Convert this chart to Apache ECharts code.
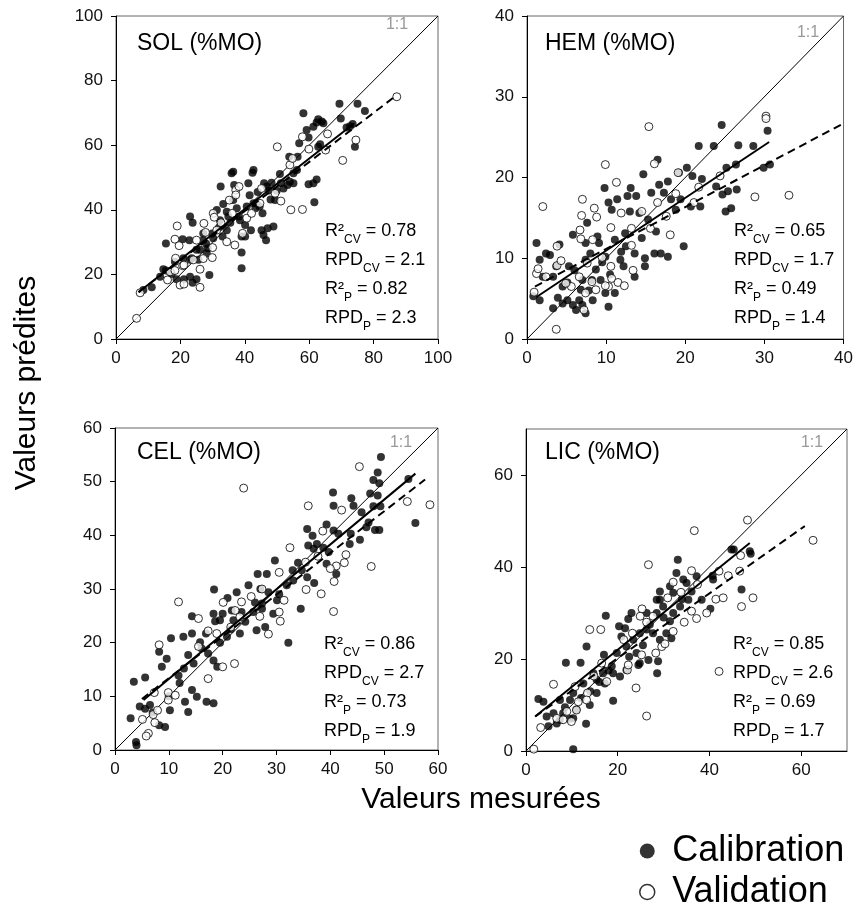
<!DOCTYPE html>
<html>
<head>
<meta charset="utf-8">
<script src="https://cdn.jsdelivr.net/npm/echarts@6/dist/echarts.min.js"></script>
<style>
html,body{margin:0;padding:0;background:#fff;}
#chart{width:856px;height:909px;}
</style>
</head>
<body>
<div id="chart"></div>
<script>

// ---- data ----
var solCal=[[8.5,15.2],[11.1,16],[13.7,19.3],[15.5,21.2],[14.7,21.6],[17.3,20.1],[15.5,29.6],[18.8,18.5],[21.1,18.5],[23,24.5],
[22.8,30.6],[23.8,36],[23,37.9],[23.8,17.4],[25,18.5],[23,19.3],[20.7,30.9],[29,19.8],[26.1,27.6],[28.5,28.1],
[29.9,32.7],[32.3,36.8],[32.5,47.2],[33.3,41.8],[35.9,51.3],[36.4,51.8],[36.7,47.7],[36.4,43],[39,21.9],[39,26.8],
[39,31.7],[40.1,35.3],[41.1,48.2],[42.4,51.5],[42.7,52.3],[41.9,33.7],[40.1,31.7],[43.7,42],[45.2,33.7],[45.5,38.9],
[46.6,30.6],[47.1,34.3],[48.9,34.8],[45.8,32.2],[46,48.2],[46.8,47.2],[48.3,48.4],[50.9,51.1],[51.2,48.2],[53.3,47.7],
[54,48.7],[55.1,48.2],[53.8,56.4],[56.4,56.4],[56.9,60.6],[58.2,69.9],[59.2,64.7],[59.8,62.4],[61.3,65.7],[62.3,67],
[62.8,68],[63.9,67.3],[64.4,66.8],[61.3,48.2],[59.8,47.9],[62.3,49.4],[61.6,42.3],[62.8,59.5],[63.4,60.3],[69.4,72.8],
[69.8,68.3],[75,72.8],[77.3,70.6],[71.6,65.5],[72.7,65.9],[74.2,59.5],[73.5,66.6],[55.1,51.3],[56.2,52.3],[31.3,39.9],
[34.4,39.4],[34.9,37.9],[38.2,37.9],[40.6,41],[42.7,42],[43.3,40.5],[48,43.2],[49.4,43],[49.9,45.9],[52,46.6],
[44.6,41],[34.4,33.7],[38.5,36.8],[33.1,31.7],[27.1,30.6],[30.2,31.2],[25,27.6],[23.5,25],[20.9,25],[18.3,23.9],
[27.1,32.7],[25.6,24.5],[28.2,26.5],[32,34.5],[35.5,36],[37.5,40.5],[41.5,44.5],[44,45.5],[47.5,46],[28,29.5]];
var solVal=[[6.4,6.4],[7.5,14.3],[87.2,75],[50.1,59.5],[57.9,62.6],[59.9,58.8],[65.7,63.5],[65.1,58.5],[70.4,55.3],[74.5,61.6],
[54,53.9],[54.3,40],[57.9,40.1],[51.2,42.7],[19,35],[18.3,30.9],[19.6,28.9],[18.5,25],[16.8,20.8],[19.9,16.7],
[21.1,17],[26.1,16],[16,18.3],[18.3,21.2],[20.7,22.7],[26.1,21.6],[25,30.6],[27.3,35.8],[27.8,33],[30.2,38.9],
[30.5,37.7],[30,28.3],[29.9,25.2],[27.1,24.9],[34.4,30.1],[36.9,29.1],[36.1,38.9],[35.2,43],[37.2,46.1],[38.2,47.2],
[37.2,44.6],[39.3,32.7],[40.6,37.4],[42.1,38.9],[44.7,42],[45.2,46.6],[49.4,45.1],[54.8,55.9],[32.6,36],[31.3,33.7],
[21.1,22.9],[24,24.5]];

var hemCal=[[1.2,11.9],[0.8,5.3],[1.6,4.8],[1.6,9.8],[2.4,10.6],[2.9,10.4],[2,7.7],[3.3,7.7],[3.3,3.8],[3.9,5.1],
[4.1,11.7],[5.1,7],[5.3,9],[5.8,12.9],[5.1,4.8],[4.5,4.4],[5.8,4.2],[6.2,3.6],[6.6,4.8],[7,4.2],
[7.4,3.2],[6.8,6.1],[7,7.3],[7.4,9.8],[8,10.6],[7.4,11.9],[7.6,14.4],[8.3,4.8],[8.7,8.6],[9.1,11.9],
[8.9,12.7],[9.3,7.3],[9.8,18.7],[9.9,10.2],[10.3,4],[10.3,16.9],[10.7,16],[11.1,12.3],[11.1,5.7],[11.4,17.3],
[11.9,10.8],[12.2,9],[12.4,13.1],[12.7,17.7],[13,15.8],[13.1,18.7],[13.6,10.6],[13.8,17.7],[14.2,15.6],[14.7,20.4],
[14.9,10],[14.9,9],[15.3,14.8],[15.7,18.1],[16.3,13.3],[16.1,10.6],[16.5,22.2],[16.9,10.6],[17.8,10.2],[16.7,19.1],
[17.8,19.5],[17.3,18.1],[18.2,17.3],[18.8,16],[19.2,20.6],[19.8,11.5],[20.2,21.2],[19.4,17.3],[20.7,16.4],[20.9,20.2],
[21.7,23.9],[21.9,16.4],[22.1,19.8],[23.6,23.9],[23.9,18.9],[24.6,26.5],[24.7,17.9],[25.2,21.2],[25.1,15.8],[25.8,16.2],
[25.4,18.3],[26.5,18.5],[26.4,21.6],[26.7,24],[28.6,23.9],[29.9,21.2],[30.4,25.8],[30.7,21.6],[8.2,7.3],[11.8,9.8],
[13.6,7.7],[9.9,5.7],[3.7,9],[6,8.5],[9.5,9.5],[12.5,11.5],[14.5,12.5],[10.5,8],[4.5,6.5],[7.8,6]];
var hemVal=[[2,16.4],[1.2,8.1],[1.4,8.7],[0.9,5.8],[3.7,1.2],[3.8,11.5],[3.8,9.1],[4.3,9.7],[7,17.3],[6.9,15.3],
[6.7,13.5],[6.8,12.4],[8.5,16.2],[8.8,15.1],[8.3,12.3],[9.9,21.6],[11.3,19.4],[10.6,13.8],[10.6,9],[10.3,6.5],
[9.9,6.6],[10.7,7.5],[11.5,7],[12.3,6.6],[11.9,15.6],[13.2,13.7],[13.2,11.6],[13.4,8.5],[14.5,15.8],[15.4,26.3],
[16.1,21.7],[15.6,13.7],[16.5,16.9],[18.1,12.9],[18.8,18],[19.1,20.6],[21.7,18.8],[24.4,20.2],[28.8,17.6],[33.1,17.8],
[30.2,27.6],[30.2,27.3],[21.1,16.9],[17.6,15.2],[5.6,6.5],[6.6,7.7],[7.4,5.7],[8.2,7.1],[8.7,6.1],[7.2,3.6],
[7.6,9.4],[9.5,10.1],[4.9,6.9],[2.4,7.7]];

var celCal=[[49.4,54.6],[48.8,51.7],[48,50.3],[49.1,49.7],[49.3,45.4],[48,45.4],[47.4,47.8],[48.8,47.4],[48.3,41],[49.1,41],
[54.5,50.5],[55.8,42.3],[40.5,48],[40.6,45.5],[43.9,46.9],[44.3,45.5],[45.8,44.3],[47.1,42.4],[46.7,41.5],[45.5,39.2],
[43.8,40.3],[43.6,38.4],[40.6,40.9],[41.5,40.3],[39.3,42],[36.7,39.9],[35.7,41.2],[35.9,38.1],[37.5,38.4],[38.7,37.7],
[39.7,36.9],[39.3,34.7],[41.1,32.8],[34,34.9],[34.7,33.5],[35.7,32.2],[37,31.1],[34.5,26.3],[32.2,20],[29.7,35.3],
[28.2,32.8],[26.5,32.8],[24.8,30.7],[22.6,29.4],[20.9,28.3],[18.4,29.9],[21.7,26],[24.2,23.9],[26.3,22.3],[27.9,22.9],
[29.4,25.4],[30.1,27.9],[27.3,26.3],[25.7,25.7],[23.2,21.7],[20.8,21.1],[19.5,24.2],[18.3,25.4],[17.3,18],[19,15.5],
[15.8,20.1],[14.3,24.9],[14.3,21.7],[12.7,21.1],[13.6,17.7],[14.6,16.1],[12.8,15.2],[10.4,20.8],[8.2,18.3],[8.7,15.5],
[9.6,17],[11.8,13.9],[14.3,11.2],[15.2,9.9],[17,9],[18.3,8.7],[13.6,7.1],[13,9],[10.2,7.4],[9.3,4.3],
[8.2,4.6],[5.6,13.5],[3.5,12.7],[2.9,5.9],[4.6,8.1],[5.6,7.7],[6.5,8.4],[4,0.9],[3.9,1.5],[18.6,24],
[20,25.4],[22,24.2],[23.5,25.7],[16.9,21.7],[16.1,18.9],[18.3,16.7],[27.3,27.3],[27,30],[28.5,29.4],[31.9,30.7],
[33.1,31.6],[36.9,37.5],[26,27.5],[30.5,29],[33,33.5],[21.5,22.5],[19.5,20],[12,12.5],[10,10],[7,7]];
var celVal=[[45.4,52.8],[23.9,48.8],[35.9,45.5],[42.1,44.7],[54.3,46.3],[58.5,45.7],[38.6,40.8],[37.7,36.1],[42.9,36.4],[42.6,34.9],
[41.1,34.3],[40,33.8],[40.7,31.4],[40.6,25.8],[47.6,34.2],[32.5,37.7],[35.4,35],[35.5,29.9],[38.3,29.1],[30.5,33.1],
[30.5,25.7],[30.7,24],[31.4,27.9],[27.3,30],[25.3,28.6],[23.5,27.6],[22.3,26],[20.1,27.5],[11.8,27.6],[8.2,19.6],
[15.5,24.5],[15.5,19.3],[17.3,22.2],[18.9,21.7],[17.3,13.3],[20,15.5],[22.2,16.1],[21.5,22.9],[23.2,24.8],[26.9,24.9],
[28.5,21.6],[9.9,10.7],[7.3,10.7],[9.9,9.3],[11.2,10.2],[7.1,6.6],[5.1,5.7],[7.4,5.1],[6.2,3.1],[5.8,2.6],
[7.9,7.4]];

var licCal=[[10.3,0.4],[2.7,11.3],[3.8,10.7],[4.9,5.4],[7.4,11.1],[8.7,19.2],[11.9,19.2],[13.2,22.7],[13.1,5.9],[13.9,10],
[17.4,29.4],[17,20.9],[19,10.9],[21.6,26.7],[20.3,27.1],[20.8,24.9],[22.3,28.7],[23,30],[24.5,18.7],[24.8,19.1],
[26.7,19.8],[28.6,16.9],[28.8,19.5],[28.5,32.9],[29.2,34.7],[29.2,32.9],[29.9,31.4],[31.4,28.2],[31.7,24.5],[32.8,38.7],
[33.1,41.6],[34.3,37.3],[35,36.5],[37.2,38],[38.3,32.9],[40.2,30.9],[40.7,38.1],[40.8,37.3],[44.8,43.8],[45.3,43.8],
[48.8,43.4],[49,42.9],[47,35.1],[19.8,21.3],[18.7,18.4],[17.2,14.7],[15.4,12.6],[14.7,16.9],[12.5,14.7],[10.3,12.6],
[9.6,11.1],[8.1,8.2],[6,8.2],[4.5,7.5],[6.7,6],[7.4,6.8],[10.3,7.1],[21.9,22.7],[23.4,24.2],[24.8,25.6],
[26.3,26.4],[27.7,25.6],[28.5,30],[26.3,30],[32.1,34.4],[32.1,30],[33.6,31.4],[35.4,32.9],[36.1,34.7],[31.4,35.8],
[20.5,16.2],[21.9,17.6],[19,16.9],[16.8,16.9],[15.4,15.5],[30.6,25.6],[24.1,21.3],[29.2,24.2],[8.5,9.5],[9.5,7],
[11,9],[12,11.5],[14,13],[16,15],[18,17.5],[22.5,20.5],[25.5,23],[27,27.5],[30,29],[34,33]];
var licVal=[[1.7,0.4],[3.2,5.1],[6,14.5],[13.9,26.4],[16.3,26.4],[14.8,16.3],[13.4,12.6],[26.7,40.5],[25.3,30.9],[26.3,7.6],
[24,13.7],[22.1,17.6],[22.3,18.7],[25.2,20.9],[28.3,21.3],[29.6,22.7],[32.1,26],[30.3,23.3],[30.9,33.3],[34.5,28],
[36.1,30.4],[37.2,28.8],[36.7,47.9],[36.1,39.2],[37.4,36.2],[39.4,30],[41.4,33],[43,33.3],[42.1,39.1],[44.1,38.1],
[46.6,39.1],[46.8,42.5],[48.3,50.2],[47,31.4],[49.5,33.3],[62.6,45.8],[42.1,17.3],[32.1,36.7],[33.8,34.5],[24.9,29.3],
[26.3,28],[23.2,25.6],[21.3,24.2],[16.5,19.1],[17.6,15.1],[11.4,10.7],[10.7,14],[8.9,8.6],[6.7,7.1],[8.1,6.8],
[9.9,6.4],[11,8.9],[13.2,11.1],[27.7,29.3]];

// fitted lines (endpoints): calibration solid, validation dashed
var solFitCal=[[7,14.5],[74,66.8]],  solFitVal=[[7,14.5],[87.2,75.5]];
var hemFitCal=[[1.2,5.2],[30.6,24.4]], hemFitVal=[[1,6.5],[40,26.7]];
var celFitCal=[[5.3,9.3],[55.8,51.5]], celFitVal=[[5,9.5],[57.6,50.4]];
var licFitCal=[[2,7.5],[48.8,45.2]],  licFitVal=[[2,7.5],[60.8,48.9]];

var panelNames=['SOL (%MO)','HEM (%MO)','CEL (%MO)','LIC (%MO)'];
var axisMax=[100,40,60,70];
var axisTicks=[[0,20,40,60,80,100],[0,10,20,30,40],[0,10,20,30,40,50,60],[0,20,40,60]];
var r2cv=['0.78','0.65','0.86','0.85'];
var rpdcv=['2.1','1.7','2.7','2.6'];
var r2p=['0.82','0.49','0.73','0.69'];
var rpdp=['2.3','1.4','1.9','1.7'];

var calData=[solCal,hemCal,celCal,licCal];
var valData=[solVal,hemVal,celVal,licVal];
var fitCal=[solFitCal,hemFitCal,celFitCal,licFitCal];
var fitVal=[solFitVal,hemFitVal,celFitVal,licFitVal];

// ---- layout ----
var boxes=[
	{left:116,top:16,width:322,height:323},
	{left:527,top:16,width:322,height:323},
	{left:115,top:428,width:323,height:322},
	{left:526,top:429,width:321,height:322}
];
var titlePos=[[137,44],[545,44],[137,453],[545,453]];
var onePos=[[397,25],[808,33],[401,443],[812,443]];
var statPos=[[325,217],[734,217],[324,630],[733,630]];

var FONT='"Liberation Sans", Arial, sans-serif';
var myChart=echarts.init(document.getElementById('chart'));

var grid=[],xAxis=[],yAxis=[],series=[],graphic=[];

for (var i=0;i<4;i++){
	grid.push({left:boxes[i].left,top:boxes[i].top,width:boxes[i].width,height:boxes[i].height,
		show:true,borderColor:'#666',borderWidth:1,backgroundColor:'transparent'});
	var ax={
		type:'value',gridIndex:i,min:0,max:axisMax[i],interval:axisTicks[i][1],
		axisLine:{show:true,onZero:false,lineStyle:{color:'#000',width:1}},
		axisTick:{show:true,inside:false,length:5,customValues:axisTicks[i],lineStyle:{color:'#000'}},
		axisLabel:{customValues:axisTicks[i],color:'#111',fontSize:17,fontFamily:FONT,margin:11},
		splitLine:{show:false}
	};
	xAxis.push(ax);
	var ay=JSON.parse(JSON.stringify(ax));
	ay.axisLabel.margin=13;
	yAxis.push(ay);

	series.push({type:'line',xAxisIndex:i,yAxisIndex:i,data:[[0,0],[axisMax[i],axisMax[i]]],
		symbol:'none',silent:true,lineStyle:{color:'#000',width:1},z:1});
	series.push({name:'Calibration',type:'scatter',xAxisIndex:i,yAxisIndex:i,data:calData[i],
		symbol:'circle',symbolSize:8,itemStyle:{color:'#000'},z:2});
	series.push({name:'Validation',type:'scatter',xAxisIndex:i,yAxisIndex:i,data:valData[i],
		symbol:'circle',symbolSize:8,itemStyle:{color:'#fff',borderColor:'#000',borderWidth:1},z:3});
	series.push({type:'line',xAxisIndex:i,yAxisIndex:i,data:fitCal[i],symbol:'none',silent:true,
		lineStyle:{color:'#000',width:2},z:4});
	series.push({type:'line',xAxisIndex:i,yAxisIndex:i,data:fitVal[i],symbol:'none',silent:true,
		lineStyle:{color:'#000',width:2,type:[8,5]},z:4});

	graphic.push({type:'text',x:titlePos[i][0],y:titlePos[i][1],
		style:{text:panelNames[i],fontSize:23,fontFamily:FONT,fill:'#000',verticalAlign:'middle'}});
	graphic.push({type:'text',x:onePos[i][0],y:onePos[i][1],
		style:{text:'1:1',fontSize:16,fontFamily:FONT,fill:'#999',align:'center',verticalAlign:'middle'}});
	graphic.push({type:'text',x:statPos[i][0],y:statPos[i][1],
		style:{
			text:'R²{s|CV} = '+r2cv[i]+'\nRPD{s|CV} = '+rpdcv[i]+'\nR²{s|P} = '+r2p[i]+'\nRPD{s|P} = '+rpdp[i],
			fontSize:18,fontFamily:FONT,fill:'#000',lineHeight:29,verticalAlign:'top',
			rich:{s:{fontSize:12,fontFamily:FONT,fill:'#000',lineHeight:16,verticalAlign:'bottom'}}
		}});
}

graphic.push({type:'text',x:27,y:383,rotation:Math.PI/2,
	style:{text:'Valeurs prédites',fontSize:30,fontFamily:FONT,fill:'#000',align:'center',verticalAlign:'middle'}});
graphic.push({type:'text',x:481,y:800,
	style:{text:'Valeurs mesurées',fontSize:30,fontFamily:FONT,fill:'#000',align:'center',verticalAlign:'middle'}});

var option={
	animation:false,
	backgroundColor:'#fff',
	grid:grid,
	xAxis:xAxis,
	yAxis:yAxis,
	legend:{
		data:['Calibration','Validation'],
		orient:'vertical',left:639,top:833,height:100,padding:0,
		icon:'circle',itemWidth:40,itemHeight:15,itemGap:5,
		itemStyle:{borderWidth:1.5},
		textStyle:{fontSize:36,fontFamily:FONT,color:'#000'}
	},
	graphic:graphic,
	series:series
};

myChart.setOption(option);

</script>
</body>
</html>
